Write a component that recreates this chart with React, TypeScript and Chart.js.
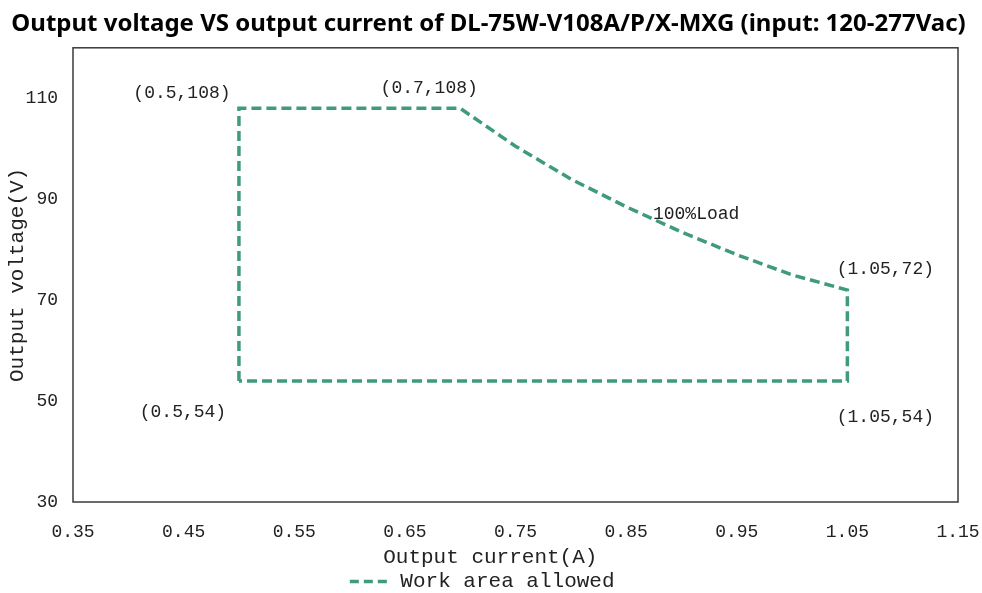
import React, { useEffect, useRef } from 'react';
import { Chart, registerables } from 'chart.js';

Chart.register(...registerables);

const chartTitle = 'Output voltage VS output current of DL-75W-V108A/P/X-MXG (input: 120-277Vac)';
const seriesLabel = 'Work area allowed';
const xAxisTitle = 'Output current(A)';
const yAxisTitle = 'Output voltage(V)';

// Boundary of the allowed work area (current in A, voltage in V)
const currentA = [0.5, 0.5, 0.7, 0.75, 0.8, 0.85, 0.9, 0.95, 1.0, 1.05, 1.05, 0.5];
const voltageV = [54, 108, 108, 100.5, 94, 88.5, 83.5, 79, 75, 72, 54, 54];

const xTicks = [0.35, 0.45, 0.55, 0.65, 0.75, 0.85, 0.95, 1.05, 1.15];
const yTicks = [30, 50, 70, 90, 110];
const xMin = 0.35;
const xMax = 1.15;
const yMin = 30;
const yMax = 120;

const noteText = ['(0.5,108)', '(0.7,108)', '100%Load', '(1.05,72)', '(1.05,54)', '(0.5,54)'];
const noteX = [0.5, 0.7, 0.85, 1.05, 1.05, 0.5];
const noteY = [108, 108, 88.5, 72, 54, 54];

const LINE_COLOR = '#3f9a7e';
const LINE_DASH = [10, 5];
const MONO = '"Liberation Mono", "DejaVu Sans Mono", monospace';
// pixel offsets of each note from its anchor point (style only)
const noteDx = [-57, -31, 70, 38, 38, -56];
const noteDy = [-15, -20, 7, -21, 36, 31];

const framePlugin = {
  id: 'frame',
  beforeDatasetsDraw(chart: any) {
    const { ctx, chartArea } = chart;
    ctx.save();
    ctx.strokeStyle = '#3a3a3a';
    ctx.lineWidth = 1.5;
    ctx.strokeRect(chartArea.left, chartArea.top, chartArea.right - chartArea.left, chartArea.bottom - chartArea.top);
    ctx.restore();
  },
};

const notesPlugin = {
  id: 'notes',
  afterDatasetsDraw(chart: any) {
    const { ctx, scales } = chart;
    ctx.save();
    ctx.font = `18px ${MONO}`;
    ctx.fillStyle = '#222';
    ctx.textAlign = 'center';
    ctx.textBaseline = 'middle';
    noteText.forEach((t, i) => {
      const x = scales.x.getPixelForValue(noteX[i]) + noteDx[i];
      const y = scales.y.getPixelForValue(noteY[i]) + noteDy[i];
      ctx.fillText(t, x, y);
    });
    ctx.restore();
  },
};

export default function App() {
  const ref = useRef<HTMLCanvasElement | null>(null);

  useEffect(() => {
    if (!ref.current) return;
    const data = currentA.map((x, i) => ({ x, y: voltageV[i] }));
    const defaultLabels = (Chart as any).defaults.plugins.legend.labels.generateLabels;
    const chart = new Chart(ref.current, {
      type: 'scatter',
      data: {
        datasets: [
          {
            label: seriesLabel,
            data,
            showLine: true,
            borderColor: LINE_COLOR,
            backgroundColor: LINE_COLOR,
            borderWidth: 3.5,
            borderDash: LINE_DASH,
            pointRadius: 0,
            pointHoverRadius: 0,
            pointStyle: 'line',
            tension: 0,
          } as any,
        ],
      },
      options: {
        responsive: false,
        animation: false,
        devicePixelRatio: 1,
        layout: { padding: { left: 0, right: 5, top: 0, bottom: -9 } },
        plugins: {
          title: {
            display: true,
            text: chartTitle,
            color: '#000',
            font: { family: '"Noto Sans", "Open Sans", sans-serif', size: 24, weight: 'bold' },
            padding: { top: 10, bottom: 9 },
          },
          legend: {
            display: true,
            position: 'bottom',
            labels: {
              usePointStyle: true,
              pointStyle: 'line',
              pointStyleWidth: 40,
              padding: 0,
              color: '#222',
              font: { family: MONO, size: 21 },
              generateLabels: (chart: any) =>
                defaultLabels(chart).map((item: any) => ({
                  ...item,
                  text: item.text + ' ',
                  lineDash: [9, 5],
                  lineWidth: 3.5,
                  strokeStyle: LINE_COLOR,
                  pointStyle: 'line',
                })),
            },
          },
          tooltip: { enabled: false },
        },
        scales: {
          x: {
            type: 'linear',
            min: xMin,
            max: xMax,
            grid: { display: false, drawTicks: false },
            border: { display: false },
            afterBuildTicks: (scale: any) => {
              scale.ticks = xTicks.map((v) => ({ value: v }));
            },
            afterFit: (scale: any) => {
              scale.height = 69;
              scale.paddingLeft = 0;
              scale.paddingRight = 24;
            },
            ticks: {
              padding: 19,
              maxRotation: 0,
              autoSkip: false,
              color: '#222',
              font: { family: MONO, size: 18 },
              callback: (v: any) => Number(v).toFixed(2),
            },
            title: {
              display: true,
              text: xAxisTitle + '    ',
              color: '#222',
              font: { family: MONO, size: 21 },
              padding: { top: 0, bottom: 1 },
            },
          },
          y: {
            type: 'linear',
            min: yMin,
            max: yMax,
            grid: { display: false, drawTicks: false },
            border: { display: false },
            afterBuildTicks: (scale: any) => {
              scale.ticks = yTicks.map((v) => ({ value: v }));
            },
            afterFit: (scale: any) => {
              scale.width = 73;
              scale.paddingTop = 0;
              scale.paddingBottom = 0;
            },
            ticks: {
              padding: 15,
              autoSkip: false,
              color: '#222',
              font: { family: MONO, size: 18 },
              callback: (v: any) => String(v),
            },
            title: {
              display: true,
              text: yAxisTitle,
              color: '#222',
              font: { family: MONO, size: 21 },
              padding: { top: 5, bottom: 0 },
            },
          },
        },
      } as any,
      plugins: [framePlugin, notesPlugin],
    });
    return () => chart.destroy();
  }, []);

  return (
    <div style={{ position: 'absolute', left: 0, top: 0, width: 982, height: 593, background: '#fff' }}>
      <canvas ref={ref} width={982} height={593} style={{ display: 'block' }} />
    </div>
  );
}
